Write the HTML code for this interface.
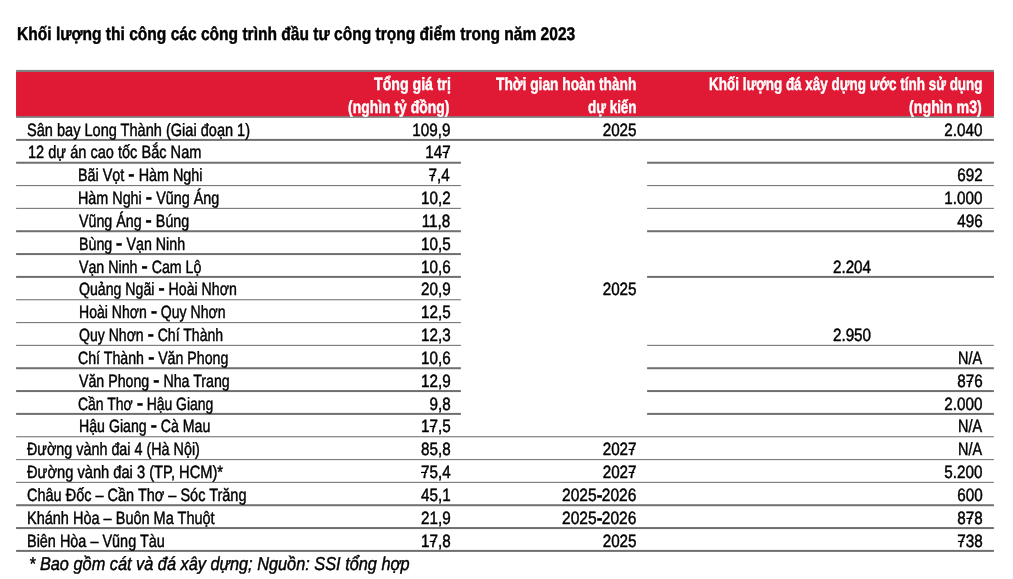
<!DOCTYPE html>
<html lang="vi"><head><meta charset="utf-8"><title>Khối lượng thi công các công trình đầu tư công trọng điểm</title>
<style>
html,body{margin:0;padding:0;background:#fff}
#pg{position:relative;width:1013px;height:579px;overflow:hidden;background:#fff;font-family:"Liberation Sans", Arial, Helvetica, sans-serif;color:#000}
#pg span{position:absolute;text-rendering:geometricPrecision;white-space:nowrap;line-height:1;display:block;-webkit-text-stroke:0.45px currentColor}
.l{transform-origin:0 0}.r{transform-origin:100% 0}.c{transform-origin:50% 0}
.w{color:#fff;font-weight:bold}
#pg b{display:inline-block;transform:scaleX(1.3);margin:0 1px;position:relative;top:-1px}#pg b.t{margin:0;transform:scaleX(1.1);top:0}
svg{position:absolute;left:0;top:0}
h1,p{margin:0;padding:0;font:inherit}
</style></head><body>
<div id="pg">
<svg width="1013" height="579" viewBox="0 0 1013 579">
<rect x="16.1" y="69.9" width="977.8" height="48" fill="#808080"/>
<rect x="16.1" y="72" width="977.8" height="44.1" fill="#e01935"/>
<rect x="16.1" y="138.90" width="977.8" height="2.0" fill="#6f6f6f"/>
<rect x="16.1" y="161.74" width="444.8" height="2.0" fill="#6f6f6f"/>
<rect x="647.1" y="161.74" width="346.8" height="2.0" fill="#6f6f6f"/>
<rect x="16.1" y="184.99" width="444.8" height="1.15" fill="#7c7c7c"/>
<rect x="647.1" y="184.99" width="346.8" height="1.15" fill="#7c7c7c"/>
<rect x="16.1" y="207.83" width="444.8" height="1.15" fill="#7c7c7c"/>
<rect x="647.1" y="207.83" width="346.8" height="1.15" fill="#7c7c7c"/>
<rect x="16.1" y="230.23" width="444.8" height="2.0" fill="#6f6f6f"/>
<rect x="647.1" y="230.23" width="346.8" height="2.0" fill="#6f6f6f"/>
<rect x="16.1" y="253.07" width="444.8" height="2.0" fill="#6f6f6f"/>
<rect x="16.1" y="275.90" width="444.8" height="2.0" fill="#6f6f6f"/>
<rect x="647.1" y="275.90" width="346.8" height="2.0" fill="#6f6f6f"/>
<rect x="16.1" y="299.16" width="444.8" height="1.15" fill="#7c7c7c"/>
<rect x="16.1" y="321.99" width="444.8" height="1.15" fill="#7c7c7c"/>
<rect x="16.1" y="344.82" width="444.8" height="1.15" fill="#7c7c7c"/>
<rect x="647.1" y="344.82" width="346.8" height="1.15" fill="#7c7c7c"/>
<rect x="16.1" y="367.23" width="444.8" height="2.0" fill="#6f6f6f"/>
<rect x="647.1" y="367.23" width="346.8" height="2.0" fill="#6f6f6f"/>
<rect x="16.1" y="390.07" width="444.8" height="2.0" fill="#6f6f6f"/>
<rect x="647.1" y="390.07" width="346.8" height="2.0" fill="#6f6f6f"/>
<rect x="16.1" y="412.90" width="444.8" height="2.0" fill="#6f6f6f"/>
<rect x="647.1" y="412.90" width="346.8" height="2.0" fill="#6f6f6f"/>
<rect x="16.1" y="436.16" width="977.8" height="1.15" fill="#7c7c7c"/>
<rect x="16.1" y="458.99" width="977.8" height="1.15" fill="#7c7c7c"/>
<rect x="16.1" y="481.82" width="977.8" height="1.15" fill="#7c7c7c"/>
<rect x="16.1" y="504.23" width="977.8" height="2.0" fill="#6f6f6f"/>
<rect x="16.1" y="527.06" width="977.8" height="2.0" fill="#6f6f6f"/>
<rect x="16.1" y="549.90" width="977.8" height="2.0" fill="#6f6f6f"/>
<rect x="442.41" y="151.85" width="5.69" height="1.2" fill="#000"/>
<rect x="429.32" y="174.85" width="5.68" height="1.2" fill="#000"/>
<rect x="966.43" y="380.85" width="5.69" height="1.2" fill="#000"/>
<rect x="429.65" y="425.85" width="5.69" height="1.2" fill="#000"/>
<rect x="628.62" y="448.85" width="5.69" height="1.2" fill="#000"/>
<rect x="420.97" y="471.85" width="5.68" height="1.2" fill="#000"/>
<rect x="628.62" y="471.85" width="5.69" height="1.2" fill="#000"/>
<rect x="966.43" y="517.85" width="5.69" height="1.2" fill="#000"/>
<rect x="429.65" y="540.85" width="5.69" height="1.2" fill="#000"/>
<rect x="957.97" y="540.85" width="5.68" height="1.2" fill="#000"/>
</svg>
<h1 class="title">
<span class="l" style="top:25px;font-size:18.4px;font-weight:bold;left:16.85px;transform:scaleX(0.8459)">Khối lượng thi công các công trình đầu tư công trọng điểm trong năm 2023</span>
</h1>
<div class="table">
<div class="thead">
<span class="l w" style="top:76px;font-size:17.8px;left:373.80px;transform:scaleX(0.7958)">Tổng giá trị</span>
<span class="l w" style="top:99px;font-size:17.8px;left:348.41px;transform:scaleX(0.7844)">(nghìn tỷ đồng)</span>
<span class="l w" style="top:76px;font-size:17.8px;left:496.00px;transform:scaleX(0.7729)">Thời gian hoàn thành</span>
<span class="l w" style="top:99px;font-size:17.8px;left:587.92px;transform:scaleX(0.7554)">dự kiến</span>
<span class="l w" style="top:76px;font-size:17.8px;left:709.14px;transform:scaleX(0.7571)">Khối lượng đá xây dựng ước tính sử dụng</span>
<span class="l w" style="top:99px;font-size:17.8px;left:908.90px;transform:scaleX(0.8011)">(nghìn m3)</span>
</div>
<div class="tr">
<span class="l" style="top:122px;font-size:17.8px;left:26.99px;transform:scaleX(0.8185)">Sân bay Long Thành (Giai đoạn 1)</span>
<span class="r" style="top:122px;font-size:17.8px;right:562.67px;transform:scaleX(0.8572)">109,9</span>
<span class="r" style="top:122px;font-size:17.8px;right:376.32px;transform:scaleX(0.8572)">2025</span>
<span class="r" style="top:122px;font-size:17.8px;right:30.17px;transform:scaleX(0.8572)">2.040</span>
</div>
<div class="tr">
<span class="l" style="top:144px;font-size:17.8px;left:27.68px;transform:scaleX(0.8195)">12 dự án cao tốc Bắc Nam</span>
<span class="r" style="top:144px;font-size:17.8px;right:562.52px;transform:scaleX(0.8572)">147</span>
</div>
<div class="tr">
<span class="l" style="top:167px;font-size:17.8px;left:78.49px;transform:scaleX(0.8072)">Bãi Vọt <b>-</b> Hàm Nghi</span>
<span class="r" style="top:167px;font-size:17.8px;right:562.91px;transform:scaleX(0.8572)">7,4</span>
<span class="r" style="top:167px;font-size:17.8px;right:30.02px;transform:scaleX(0.8572)">692</span>
</div>
<div class="tr">
<span class="l" style="top:190px;font-size:17.8px;left:78.49px;transform:scaleX(0.8069)">Hàm Nghi <b>-</b> Vũng Áng</span>
<span class="r" style="top:190px;font-size:17.8px;right:562.58px;transform:scaleX(0.8572)">10,2</span>
<span class="r" style="top:190px;font-size:17.8px;right:30.17px;transform:scaleX(0.8572)">1.000</span>
</div>
<div class="tr">
<span class="l" style="top:213px;font-size:17.8px;left:79.20px;transform:scaleX(0.8015)">Vũng Áng <b>-</b> Búng</span>
<span class="r" style="top:213px;font-size:17.8px;right:562.63px;transform:scaleX(0.8572)">11,8</span>
<span class="r" style="top:213px;font-size:17.8px;right:30.02px;transform:scaleX(0.8572)">496</span>
</div>
<div class="tr">
<span class="l" style="top:236px;font-size:17.8px;left:78.50px;transform:scaleX(0.8008)">Bùng <b>-</b> Vạn Ninh</span>
<span class="r" style="top:236px;font-size:17.8px;right:562.58px;transform:scaleX(0.8572)">10,5</span>
</div>
<div class="tr">
<span class="l" style="top:259px;font-size:17.8px;left:79.20px;transform:scaleX(0.7987)">Vạn Ninh <b>-</b> Cam Lộ</span>
<span class="r" style="top:259px;font-size:17.8px;right:562.58px;transform:scaleX(0.8572)">10,6</span>
<span class="c" style="top:259px;font-size:17.8px;left:851.79px;transform:translateX(-50%) scaleX(0.8572)">2.204</span>
</div>
<div class="tr">
<span class="l" style="top:281px;font-size:17.8px;left:78.60px;transform:scaleX(0.7949)">Quảng Ngãi <b>-</b> Hoài Nhơn</span>
<span class="r" style="top:281px;font-size:17.8px;right:562.58px;transform:scaleX(0.8572)">20,9</span>
<span class="r" style="top:281px;font-size:17.8px;right:376.32px;transform:scaleX(0.8572)">2025</span>
</div>
<div class="tr">
<span class="l" style="top:304px;font-size:17.8px;left:78.51px;transform:scaleX(0.7902)">Hoài Nhơn <b>-</b> Quy Nhơn</span>
<span class="r" style="top:304px;font-size:17.8px;right:562.58px;transform:scaleX(0.8572)">12,5</span>
</div>
<div class="tr">
<span class="l" style="top:327px;font-size:17.8px;left:78.60px;transform:scaleX(0.7901)">Quy Nhơn <b>-</b> Chí Thành</span>
<span class="r" style="top:327px;font-size:17.8px;right:562.58px;transform:scaleX(0.8572)">12,3</span>
<span class="c" style="top:327px;font-size:17.8px;left:851.89px;transform:translateX(-50%) scaleX(0.8572)">2.950</span>
</div>
<div class="tr">
<span class="l" style="top:350px;font-size:17.8px;left:78.40px;transform:scaleX(0.7973)">Chí Thành <b>-</b> Văn Phong</span>
<span class="r" style="top:350px;font-size:17.8px;right:562.58px;transform:scaleX(0.8572)">10,6</span>
<span class="l" style="top:350px;font-size:17.8px;left:958.34px;transform:scaleX(0.8104)">N/A</span>
</div>
<div class="tr">
<span class="l" style="top:373px;font-size:17.8px;left:79.20px;transform:scaleX(0.7979)">Văn Phong <b>-</b> Nha Trang</span>
<span class="r" style="top:373px;font-size:17.8px;right:562.58px;transform:scaleX(0.8572)">12,9</span>
<span class="r" style="top:373px;font-size:17.8px;right:30.02px;transform:scaleX(0.8572)">876</span>
</div>
<div class="tr">
<span class="l" style="top:396px;font-size:17.8px;left:78.41px;transform:scaleX(0.7848)">Cần Thơ <b>-</b> Hậu Giang</span>
<span class="r" style="top:396px;font-size:17.8px;right:562.70px;transform:scaleX(0.8572)">9,8</span>
<span class="r" style="top:396px;font-size:17.8px;right:30.17px;transform:scaleX(0.8572)">2.000</span>
</div>
<div class="tr">
<span class="l" style="top:418px;font-size:17.8px;left:78.51px;transform:scaleX(0.7957)">Hậu Giang <b>-</b> Cà Mau</span>
<span class="r" style="top:418px;font-size:17.8px;right:562.58px;transform:scaleX(0.8572)">17,5</span>
<span class="l" style="top:418px;font-size:17.8px;left:958.34px;transform:scaleX(0.8104)">N/A</span>
</div>
<div class="tr">
<span class="l" style="top:441px;font-size:17.8px;left:26.70px;transform:scaleX(0.8066)">Đường vành đai 4 (Hà Nội)</span>
<span class="r" style="top:441px;font-size:17.8px;right:562.58px;transform:scaleX(0.8572)">85,8</span>
<span class="r" style="top:441px;font-size:17.8px;right:376.32px;transform:scaleX(0.8572)">2027</span>
<span class="l" style="top:441px;font-size:17.8px;left:958.34px;transform:scaleX(0.8104)">N/A</span>
</div>
<div class="tr">
<span class="l" style="top:464px;font-size:17.8px;left:26.70px;transform:scaleX(0.8248)">Đường vành đai 3 (TP, HCM)*</span>
<span class="r" style="top:464px;font-size:17.8px;right:562.79px;transform:scaleX(0.8572)">75,4</span>
<span class="r" style="top:464px;font-size:17.8px;right:376.32px;transform:scaleX(0.8572)">2027</span>
<span class="r" style="top:464px;font-size:17.8px;right:30.17px;transform:scaleX(0.8572)">5.200</span>
</div>
<div class="tr">
<span class="l" style="top:487px;font-size:17.8px;left:27.09px;transform:scaleX(0.8149)">Châu Đốc – Cần Thơ – Sóc Trăng</span>
<span class="r" style="top:487px;font-size:17.8px;right:562.58px;transform:scaleX(0.8572)">45,1</span>
<span class="r" style="top:487px;font-size:17.8px;right:30.24px;transform:scaleX(0.8572)">600</span>
<span class="l" style="top:487px;font-size:17.8px;left:562.34px;transform:scaleX(0.8752)">2025<b class="t">-</b>2026</span>
</div>
<div class="tr">
<span class="l" style="top:510px;font-size:17.8px;left:26.68px;transform:scaleX(0.8157)">Khánh Hòa – Buôn Ma Thuột</span>
<span class="r" style="top:510px;font-size:17.8px;right:562.58px;transform:scaleX(0.8572)">21,9</span>
<span class="r" style="top:510px;font-size:17.8px;right:30.02px;transform:scaleX(0.8572)">878</span>
<span class="l" style="top:510px;font-size:17.8px;left:562.34px;transform:scaleX(0.8752)">2025<b class="t">-</b>2026</span>
</div>
<div class="tr">
<span class="l" style="top:533px;font-size:17.8px;left:26.69px;transform:scaleX(0.8119)">Biên Hòa – Vũng Tàu</span>
<span class="r" style="top:533px;font-size:17.8px;right:562.58px;transform:scaleX(0.8572)">17,8</span>
<span class="r" style="top:533px;font-size:17.8px;right:376.32px;transform:scaleX(0.8572)">2025</span>
<span class="r" style="top:533px;font-size:17.8px;right:30.02px;transform:scaleX(0.8572)">738</span>
</div>
</div>
<p class="note">
<span class="l" style="top:555px;font-size:18.6px;font-style:italic;left:28.64px;transform:scaleX(0.8780)">* Bao gồm cát và đá xây dựng; Nguồn: SSI tổng hợp</span>
</p>
</div>
</body></html>
